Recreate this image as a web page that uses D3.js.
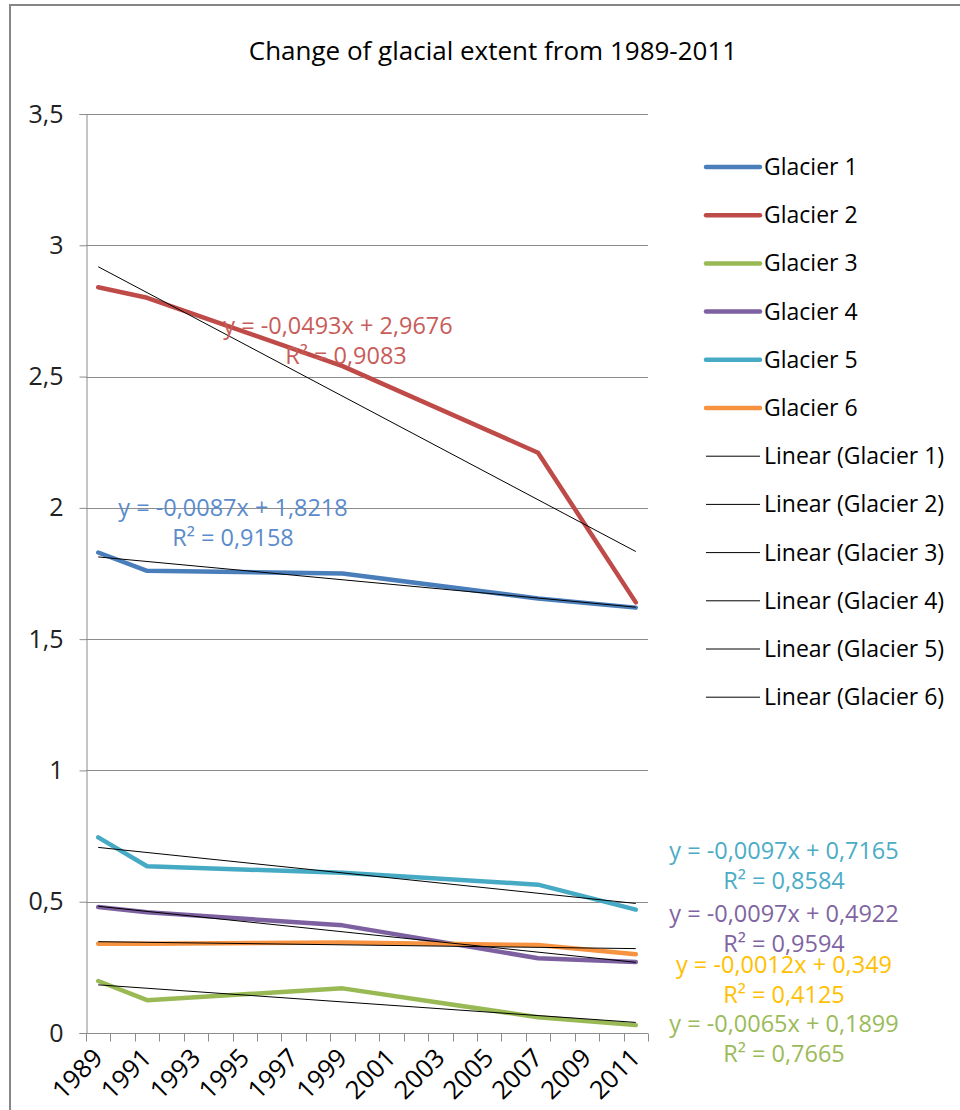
<!DOCTYPE html>
<html><head><meta charset="utf-8">
<script src="https://cdn.jsdelivr.net/npm/d3@7"></script>
<style>body{margin:0;background:#fff} svg{display:block} text{font-family:'Open Sans',sans-serif}</style>
</head><body><svg id="c" width="960" height="1110"></svg>
<script>
// ---- data ----
const years = [1989, 1991, 1999, 2007, 2011];
const seriesNames = ["Glacier 1", "Glacier 2", "Glacier 3", "Glacier 4", "Glacier 5", "Glacier 6"];
const glacier1 = [1.83, 1.76, 1.75, 1.655, 1.62];
const glacier2 = [2.84, 2.80, 2.54, 2.21, 1.64];
const glacier3 = [0.198, 0.125, 0.17, 0.06, 0.03];
const glacier4 = [0.48, 0.46, 0.41, 0.285, 0.27];
const glacier5 = [0.745, 0.635, 0.61, 0.565, 0.47];
const glacier6 = [0.34, 0.34, 0.345, 0.335, 0.30];
const trendSlopes = [-0.0087, -0.0493, -0.0065, -0.0097, -0.0097, -0.0012];
const trendIntercepts = [1.8218, 2.9676, 0.1899, 0.4922, 0.7165, 0.349];
const trendR2 = ["0,9158", "0,9083", "0,7665", "0,9594", "0,8584", "0,4125"];
const trendSlopeText = ["-0,0087", "-0,0493", "-0,0065", "-0,0097", "-0,0097", "-0,0012"];
const trendInterceptText = ["1,8218", "2,9676", "0,1899", "0,4922", "0,7165", "0,349"];
const xTickLabels = ["1989","1991","1993","1995","1997","1999","2001","2003","2005","2007","2009","2011"];
const yTickValues = [0, 0.5, 1, 1.5, 2, 2.5, 3, 3.5];
const firstYear = 1989, lastYear = 2011, trendOrigin = 1988;

// ---- styles ----
const lineColors = ["#4A7EBB", "#BE4B48", "#98B954", "#7D60A0", "#46AAC5", "#F69240"];
const labelColors = ["#5B8BCB", "#C85C59", "#9BBB59", "#8064A2", "#4BACC6", "#FFC000"];
const allSeries = [glacier1, glacier2, glacier3, glacier4, glacier5, glacier6];
const gridColor = "#8C8C8C";
const FS = 23;

const svg = d3.select("#c");
// outer chart border
svg.append("rect").attr("x", 10).attr("y", 5).attr("width", 980).attr("height", 1140)
  .attr("fill", "none").attr("stroke", "#868686").attr("stroke-width", 2);

const x = d3.scaleLinear().domain([firstYear - 0.5, lastYear + 0.5]).range([86, 648]);
const y = d3.scaleLinear().domain([0, 3.5]).range([1033, 114]);

// title
svg.append("text").attr("x", 493).attr("y", 60).attr("text-anchor", "middle")
  .attr("font-size", 26).attr("fill", "#000").text("Change of glacial extent from 1989-2011");

// gridlines
svg.append("g").selectAll("line").data(yTickValues.filter(d => d > 0)).join("line")
  .attr("x1", x.range()[0]).attr("x2", x.range()[1])
  .attr("y1", d => Math.round(y(d)) + 0.5).attr("y2", d => Math.round(y(d)) + 0.5)
  .attr("stroke", gridColor).attr("stroke-width", 1);

// y axis
const fmt = d => String(d).replace(".", ",");
const yAxis = svg.append("g").attr("transform", `translate(${x.range()[0] + 0.5},0)`)
  .call(d3.axisLeft(y).tickValues(yTickValues).tickFormat(fmt).tickSize(7).tickPadding(16));
yAxis.select(".domain").attr("stroke", gridColor);
yAxis.selectAll(".tick line").attr("stroke", gridColor);
yAxis.selectAll(".tick text").attr("font-size", 25).attr("fill", "#222")
  .attr("font-family", "'Open Sans',sans-serif");

// x axis (category boundaries every year)
const boundaries = d3.range(firstYear - 0.5, lastYear + 1, 1);
const xAxis = svg.append("g").attr("transform", `translate(0,${Math.round(y(0)) + 0.5})`);
xAxis.append("line").attr("x1", x.range()[0]).attr("x2", x.range()[1]).attr("stroke", gridColor);
xAxis.selectAll("line.t").data(boundaries).join("line").attr("class", "t")
  .attr("x1", d => Math.round(x(d)) + 0.5).attr("x2", d => Math.round(x(d)) + 0.5)
  .attr("y1", 0).attr("y2", 8).attr("stroke", gridColor);
xAxis.selectAll("text").data(xTickLabels).join("text")
  .attr("transform", d => `translate(${x(+d) + 6},${26}) rotate(-45)`)
  .attr("text-anchor", "end").attr("font-size", 25.5).attr("fill", "#000").text(d => d);

// data lines
const line = d3.line().x((d, i) => x(years[i])).y(d => y(d));
svg.append("g").selectAll("path").data(allSeries).join("path")
  .attr("d", d => line(d)).attr("fill", "none")
  .attr("stroke", (d, i) => lineColors[i]).attr("stroke-width", 4.5)
  .attr("stroke-linejoin", "round").attr("stroke-linecap", "round");

// trend lines
svg.append("g").selectAll("line").data(trendSlopes).join("line")
  .attr("x1", x(firstYear)).attr("x2", x(lastYear))
  .attr("y1", (s, i) => y(trendIntercepts[i] + s * (firstYear - trendOrigin)))
  .attr("y2", (s, i) => y(trendIntercepts[i] + s * (lastYear - trendOrigin)))
  .attr("stroke", "#000").attr("stroke-width", 1);

// trend labels
const labelPos = [[233, 516], [338, 334], [784, 1032], [784, 922], [784, 859], [784, 973]];
const tl = svg.append("g").selectAll("g").data(trendSlopes).join("g");
tl.append("text").attr("x", (d, i) => labelPos[i][0]).attr("y", (d, i) => labelPos[i][1])
  .attr("text-anchor", "middle").attr("font-size", 23.5).attr("fill", (d, i) => labelColors[i])
  .text((d, i) => `y = ${trendSlopeText[i]}x + ${trendInterceptText[i]}`);
tl.append("text").attr("x", (d, i) => labelPos[i][0] + (i === 1 ? 8 : 0)).attr("y", (d, i) => labelPos[i][1] + 30)
  .attr("text-anchor", "middle").attr("font-size", 23.5).attr("fill", (d, i) => labelColors[i])
  .text((d, i) => `R² = ${trendR2[i]}`);

// legend
const legendNames = seriesNames.concat(seriesNames.map(n => `Linear (${n})`));
const lg = svg.append("g").selectAll("g").data(legendNames).join("g")
  .attr("transform", (d, i) => `translate(0,${167 + i * 48.2})`);
lg.append("line").attr("x1", 706).attr("x2", 760).attr("y1", 0).attr("y2", 0)
  .attr("stroke", (d, i) => i < 6 ? lineColors[i] : "#000")
  .attr("stroke-width", (d, i) => i < 6 ? 4.5 : 1)
  .attr("stroke-linecap", (d, i) => i < 6 ? "round" : "butt");
lg.append("text").attr("x", 764).attr("y", 8).attr("font-size", FS).attr("fill", "#000").text(d => d);
</script></body></html>
